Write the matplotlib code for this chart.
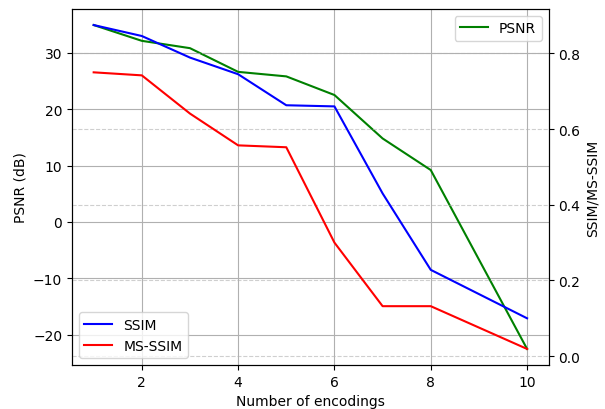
import matplotlib
matplotlib.use("Agg")
import matplotlib.pyplot as plt

# number of encodings (no point at 9)
encodings = [1, 2, 3, 4, 5, 6, 7, 8, 10]
psnr = [34.9, 32.1, 30.8, 26.6, 25.8, 22.5, 14.8, 9.2, -22.5]
ssim = [0.875, 0.846, 0.789, 0.745, 0.663, 0.660, 0.430, 0.228, 0.100]
ms_ssim = [0.750, 0.742, 0.641, 0.557, 0.552, 0.300, 0.132, 0.132, 0.019]

fig, ax = plt.subplots(figsize=(6.05, 4.1), dpi=100)
ax.plot(encodings, psnr, color="green", label="PSNR")
ax.set_xlabel("Number of encodings")
ax.set_ylabel("PSNR (dB)")
ax.grid(True)
ax.legend(loc="upper right")

ax2 = ax.twinx()
ax2.plot(encodings, ssim, color="blue", label="SSIM")
ax2.plot(encodings, ms_ssim, color="red", label="MS-SSIM")
ax2.set_ylabel("SSIM/MS-SSIM")
ax2.yaxis.grid(True, linestyle="--", alpha=0.6)
ax2.legend(loc="lower left")

plt.subplots_adjust(left=0.119, right=0.907, top=0.976, bottom=0.107)
plt.savefig("out.png")
